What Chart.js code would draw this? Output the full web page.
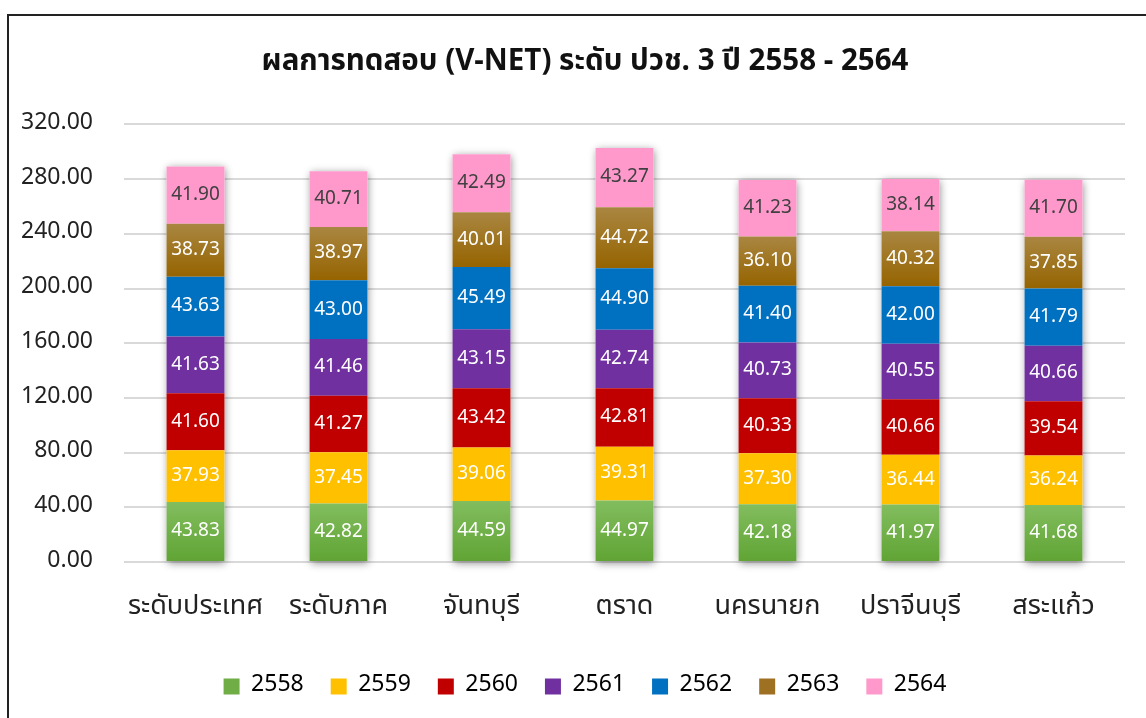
<!DOCTYPE html>
<html>
<head>
<meta charset="utf-8">
<script src="https://cdn.jsdelivr.net/npm/chart.js@4.4.0/dist/chart.umd.min.js"></script>
<style>
  html, body { margin: 0; padding: 0; background: #fff; overflow: hidden; }
  #wrap { position: relative; width: 1146px; height: 718px; overflow: hidden; }
  #frame { position: absolute; left: 7px; top: 14px; width: 1146px; height: 718px; border: 2px solid #222; box-sizing: border-box; pointer-events: none; }
</style>
</head>
<body>
<div id="wrap">
  <canvas id="vnet-chart" width="1170" height="718"></canvas>
  <div id="frame"></div>
</div>
<script>
const areas = ['ระดับประเทศ', 'ระดับภาค', 'จันทบุรี', 'ตราด', 'นครนายก', 'ปราจีนบุรี', 'สระแก้ว'];
const years = ['2558', '2559', '2560', '2561', '2562', '2563', '2564'];

const y2558 = [43.83, 42.82, 44.59, 44.97, 42.18, 41.97, 41.68];
const y2559 = [37.93, 37.45, 39.06, 39.31, 37.30, 36.44, 36.24];
const y2560 = [41.60, 41.27, 43.42, 42.81, 40.33, 40.66, 39.54];
const y2561 = [41.63, 41.46, 43.15, 42.74, 40.73, 40.55, 40.66];
const y2562 = [43.63, 43.00, 45.49, 44.90, 41.40, 42.00, 41.79];
const y2563 = [38.73, 38.97, 40.01, 44.72, 36.10, 40.32, 37.85];
const y2564 = [41.90, 40.71, 42.49, 43.27, 41.23, 38.14, 41.70];

const yTicks = [0, 40, 80, 120, 160, 200, 240, 280, 320];

const FONT = "Tahoma, 'Noto Sans Thai', 'Noto Sans', 'DejaVu Sans', sans-serif";

// vertical gradient per segment, worked out from the y scale
function gradient(top, bottom) {
    return function (context) {
        const chart = context.chart;
        const yScale = chart.scales.y;
        if (!yScale || context.type !== 'data') return bottom;
        let base = 0;
        for (let d = 0; d < context.datasetIndex; d++) {
            base += chart.data.datasets[d].data[context.dataIndex];
        }
        const y0 = yScale.getPixelForValue(base);
        const y1 = yScale.getPixelForValue(base + context.raw);
        if (!isFinite(y0) || !isFinite(y1)) return bottom;
        const g = chart.ctx.createLinearGradient(0, y1, 0, y0);
        g.addColorStop(0, top);
        g.addColorStop(1, bottom);
        return g;
    };
}

const seriesValues = [y2558, y2559, y2560, y2561, y2562, y2563, y2564];
const colors = [
    gradient('#82bd5e', '#60a434'),
    '#ffc000',
    '#c00000',
    '#7030a0',
    '#0070c0',
    gradient('#a98641', '#966400'),
    '#ff99cc'
];
const legendColors = ['#70ad47', '#ffc000', '#c00000', '#7030a0', '#0070c0', '#9e7122', '#ff99cc'];
const labelColors = ['#fff', '#fff', '#fff', '#fff', '#fff', '#fff', '#404040'];

// shadow behind each stacked column
const stackShadow = {
    id: 'stackShadow',
    beforeDatasetsDraw(chart) {
        const ctx = chart.ctx;
        const first = chart.getDatasetMeta(0).data;
        const last = chart.getDatasetMeta(chart.data.datasets.length - 1).data;
        ctx.save();
        ctx.shadowColor = 'rgba(0,0,0,0.45)';
        ctx.shadowBlur = 8;
        ctx.shadowOffsetX = 1;
        ctx.shadowOffsetY = 2;
        ctx.fillStyle = '#fff';
        first.forEach((bar, i) => {
            const top = last[i].y;
            ctx.fillRect(bar.x - bar.width / 2, top, bar.width, bar.base - top);
        });
        ctx.restore();
    }
};

// value labels in the middle of each segment
const segmentLabels = {
    id: 'segmentLabels',
    afterDatasetsDraw(chart) {
        const ctx = chart.ctx;
        ctx.save();
        ctx.font = '19px ' + FONT;
        ctx.textAlign = 'center';
        ctx.textBaseline = 'middle';
        chart.data.datasets.forEach((ds, di) => {
            ctx.fillStyle = labelColors[di];
            chart.getDatasetMeta(di).data.forEach((bar, i) => {
                ctx.fillText(ds.data[i].toFixed(2), bar.x, (bar.y + bar.base) / 2 + 1);
            });
        });
        ctx.restore();
    }
};

const ctx = document.getElementById('vnet-chart').getContext('2d');

new Chart(ctx, {
    type: 'bar',
    data: {
        labels: areas,
        datasets: years.map((yr, i) => ({
            label: yr,
            data: seriesValues[i],
            backgroundColor: colors[i],
            borderWidth: 0,
            barPercentage: 0.405,
            categoryPercentage: 1
        }))
    },
    options: {
        responsive: false,
        animation: false,
        devicePixelRatio: 1,
        layout: {
            padding: { left: 21, right: 21, top: 46, bottom: 10 }
        },
        scales: {
            x: {
                stacked: true,
                grid: { display: false, drawTicks: false },
                border: { display: false },
                ticks: {
                    color: '#222',
                    font: { family: FONT, size: 27 },
                    padding: 30
                },
                afterFit: function (axis) {
                    axis.height = 86;
                }
            },
            y: {
                stacked: true,
                min: 0,
                max: 320,
                afterBuildTicks: function (axis) {
                    axis.ticks = yTicks.map(v => ({ value: v }));
                },
                afterFit: function (axis) {
                    axis.width = 103;
                },
                grid: { color: '#d9d9d9', lineWidth: 2, drawTicks: false },
                border: { display: false },
                ticks: {
                    color: '#222',
                    font: { family: FONT, size: 23 },
                    padding: 31,
                    callback: v => v.toFixed(2)
                }
            },
            // empty spacer on the right, the plot ends before the frame does
            spacer: {
                type: 'linear',
                position: 'right',
                grid: { display: false },
                border: { display: false },
                ticks: { display: false },
                afterFit: function (axis) {
                    axis.width = 24;
                }
            }
        },
        plugins: {
            title: {
                display: true,
                text: 'ผลการทดสอบ (V-NET) ระดับ ปวช. 3 ปี 2558 - 2564',
                color: '#111',
                font: { family: FONT, size: 29.5, weight: 'bold' },
                padding: { top: 0, bottom: 43 }
            },
            legend: {
                position: 'bottom',
                labels: {
                    color: '#111',
                    font: { family: FONT, size: 23 },
                    boxWidth: 16,
                    boxHeight: 16,
                    padding: 27,
                    generateLabels: function (chart) {
                        return chart.data.datasets.map((ds, i) => ({
                            text: ds.label,
                            fillStyle: legendColors[i],
                            strokeStyle: legendColors[i],
                            lineWidth: 0,
                            datasetIndex: i
                        }));
                    }
                }
            },
            tooltip: { enabled: false }
        }
    },
    plugins: [stackShadow, segmentLabels]
});
</script>
</body>
</html>
